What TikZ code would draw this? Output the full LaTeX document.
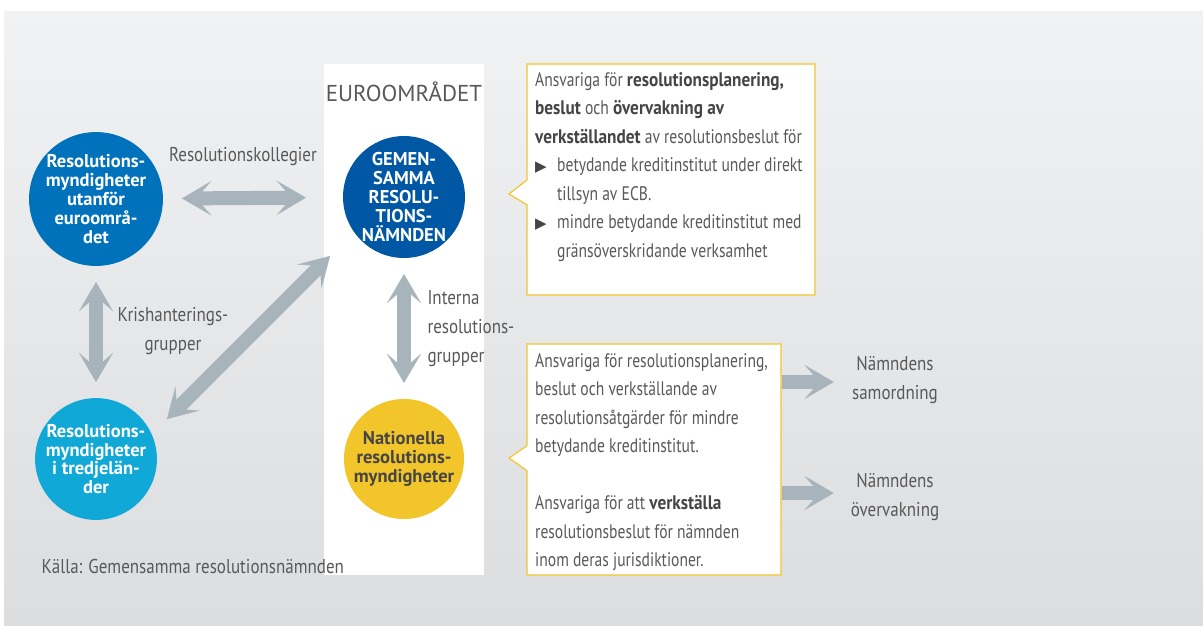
\documentclass[tikz,border=0pt]{standalone}
\usepackage{fontspec}
\setmainfont{PT Sans}
\newfontfamily\condfont{PT Sans}[FakeStretch=0.85]
\newfontfamily\boxfont{PT Sans}[FakeStretch=0.795, BoldFeatures={FakeStretch=0.88}]
\newfontfamily\symfont{DejaVu Sans}
\usetikzlibrary{shapes,shapes.callouts,arrows.meta,calc}
\definecolor{bgtop}{HTML}{F1F2F3}
\definecolor{bgbot}{HTML}{DCDDDF}
\definecolor{outblue}{HTML}{0072BC}
\definecolor{srbblue}{HTML}{0057A4}
\definecolor{thirdblue}{HTML}{10A8D6}
\definecolor{nrayellow}{HTML}{F2C62B}
\definecolor{arrowgray}{HTML}{A7B4BC}
\definecolor{labelgray}{HTML}{595959}
\definecolor{darkgray}{HTML}{454545}
\newcommand{\tri}{\makebox[22pt][l]{\symfont\color{darkgray}\fontsize{15}{15}\selectfont ▶}}
\newcommand{\hi}[1]{{\bfseries\color{darkgray}#1}}

\begin{document}
\begin{tikzpicture}
  [
    x=1pt, y=-1pt,
    fat/.tip={Stealth[length=29pt, width=34pt, inset=15pt, line width=0.01pt]},
    bigarrow/.style={draw=arrowgray, line width=14pt},
    circ/.style={circle, minimum size=120pt, inner sep=0pt, align=center, text=white,
      font=\bfseries\fontsize{18.5}{18.8}\selectfont},
    lbl/.style={text=labelgray, align=center, font=\condfont\fontsize{20}{29}\selectfont},
    info/.style={rectangle callout, draw=nrayellow, line width=1.2pt, fill=white,
      minimum height=231pt, inner sep=0pt, callout pointer width=25pt},
    infotext/.style={anchor=north west, align=left, inner sep=0pt, text=labelgray,
      font=\boxfont\fontsize{19.6}{28.5}\selectfont}
  ]
  \useasboundingbox (0,0) rectangle (1203,625);
  \fill [top color=bgtop, bottom color=bgbot] (4,11) rectangle (1203,625);
  \fill [white] (324,64) rectangle (484,575);

  \node [text=labelgray, font=\fontsize{23}{23}\selectfont] (euro) at (404,92) {EUROOMRÅDET};

  \node [circ, fill=outblue] (outside) at (96,199) {Resolutions-\\myndigheter\\utanför\\euroområ-\\det};
  \node [circ, fill=srbblue] (srb) at (404,197) {GEMEN-\\SAMMA\\RESOLU-\\TIONS-\\NÄMNDEN};
  \node [circ, fill=thirdblue] (third) at (96,459) {Resolutions-\\myndigheter\\i tredjelän-\\der};
  \node [circ, fill=nrayellow, text=darkgray] (nra) at (404,459) {Nationella\\resolutions-\\myndigheter};

  \node [lbl] (coll) at (243,157) {Resolutionskollegier};
  \node [lbl] (kris) at (173,331) {Krishanterings-\\grupper};
  \node [lbl, align=left, anchor=west] (intern) at (424,329) {Interna\\resolutions-\\grupper};
  \node [lbl, anchor=west] (source) at (38,566) {Källa: Gemensamma resolutionsnämnden};

  \draw [bigarrow, fat-fat, shorten <=19pt, shorten >=37pt] (outside) -- (srb);
  \draw [bigarrow, fat-fat, shorten <=16pt, shorten >=16pt] (outside) -- (third);
  \draw [bigarrow, fat-fat, shorten <=16pt, shorten >=16pt] (srb) -- (nra);
  \coordinate (diaglow) at (167,419);
  \coordinate (diaghigh) at (330,256);
  \draw [bigarrow, fat-fat] (diaglow) -- (diaghigh);

  \node [info, minimum width=288pt, callout absolute pointer={(509,194)}] (box1) at (671,179.5) {};
  \node [infotext] (text1) at (535,72) {Ansvariga för \hi{resolutionsplanering,}\\
    \hi{beslut} och \hi{övervakning av}\\
    \hi{verkställandet} av resolutionsbeslut för\\
    \tri betydande kreditinstitut under direkt\\
    \hspace*{22pt}tillsyn av ECB.\\
    \tri mindre betydande kreditinstitut med\\
    \hspace*{22pt}gränsöverskridande verksamhet};

  \node [info, minimum width=254pt, callout absolute pointer={(509,458)}] (box2) at (654,459.5) {};
  \node [infotext] (text2) at (535,353) {Ansvariga för resolutionsplanering,\\
    beslut och verkställande av\\
    resolutionsåtgärder för mindre\\
    betydande kreditinstitut.\\[28.5pt]
    Ansvariga för att \hi{verkställa}\\
    resolutionsbeslut för nämnden\\
    inom deras jurisdiktioner.};

  \node [lbl] (samord) at (895,380) {Nämndens\\samordning};
  \node [lbl] (overv) at (895,497) {Nämndens\\övervakning};
  \draw [bigarrow, -fat] (box2.east |- 0,382) -- ++(52,0);
  \draw [bigarrow, -fat] (box2.east |- 0,493) -- ++(52,0);
\end{tikzpicture}
\end{document}
